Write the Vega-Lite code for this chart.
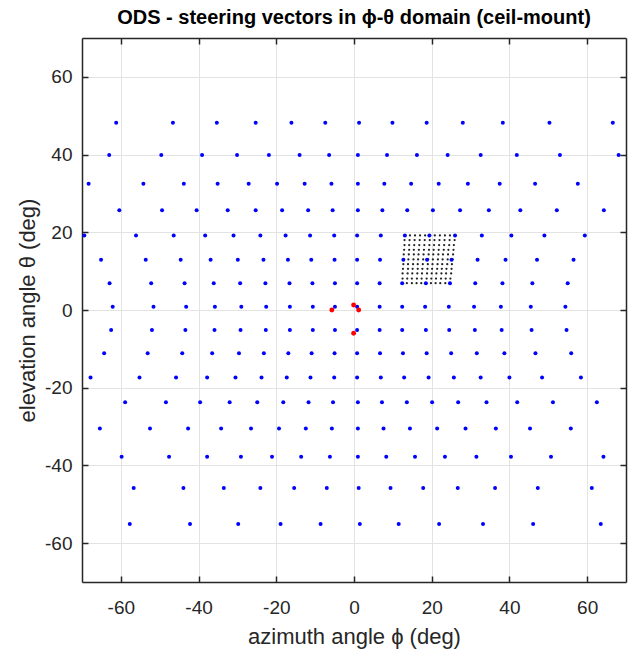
{
"$schema": "https://vega.github.io/schema/vega-lite/v6.json",
"width": 544, "height": 544,
"autosize": {"type": "none"},
"padding": {"left": 82, "top": 38, "right": 4, "bottom": 72},
"background": "white",
"title": {"text": "ODS - steering vectors in ϕ-θ domain (ceil-mount)", "font": "Liberation Sans", "fontSize": 20, "fontWeight": "bold", "color": "#000000", "anchor": "middle", "offset": 9},
"config": {"view": {"stroke": null}, "axis": {"labelFont": "Liberation Sans", "titleFont": "Liberation Sans", "labelFontSize": 19, "titleFontSize": 22, "titleFontWeight": "normal", "labelColor": "#262626", "titleColor": "#262626", "domainColor": "#262626", "domainWidth": 1.5, "tickColor": "#262626", "tickWidth": 1.5, "tickSize": -6, "gridColor": "#e3e3e3", "gridWidth": 1, "labelFlush": false, "labelOverlap": false}},
"datasets": {
"steer": [
{"az":-61.2,"el":48.2},{"az":-46.6,"el":48.2},{"az":-35.3,"el":48.2},{"az":-25.3,"el":48.2},{"az":-16.1,"el":48.2},{"az":-7.4,"el":48.2},{"az":1.3,"el":48.2},{"az":9.9,"el":48.2},{"az":18.7,"el":48.2},{"az":28.0,"el":48.2},{"az":38.3,"el":48.2},{"az":50.3,"el":48.2},{"az":66.6,"el":48.2},
{"az":-63.0,"el":39.9},{"az":-49.6,"el":39.9},{"az":-39.1,"el":39.9},{"az":-30.1,"el":39.9},{"az":-21.9,"el":39.9},{"az":-14.0,"el":39.9},{"az":-6.4,"el":39.9},{"az":1.0,"el":39.9},{"az":8.5,"el":39.9},{"az":16.2,"el":39.9},{"az":24.1,"el":39.9},{"az":32.6,"el":39.9},{"az":41.9,"el":39.9},{"az":53.0,"el":39.9},{"az":68.1,"el":39.9},
{"az":-68.3,"el":32.5},{"az":-54.2,"el":32.5},{"az":-43.8,"el":32.5},{"az":-35.1,"el":32.5},{"az":-27.1,"el":32.5},{"az":-19.8,"el":32.5},{"az":-12.7,"el":32.5},{"az":-5.8,"el":32.5},{"az":1.0,"el":32.5},{"az":7.8,"el":32.5},{"az":14.7,"el":32.5},{"az":21.8,"el":32.5},{"az":29.3,"el":32.5},{"az":37.5,"el":32.5},{"az":46.6,"el":32.5},{"az":57.6,"el":32.5},
{"az":-60.4,"el":25.7},{"az":-49.4,"el":25.7},{"az":-40.5,"el":25.7},{"az":-32.5,"el":25.7},{"az":-25.3,"el":25.7},{"az":-18.5,"el":25.7},{"az":-11.8,"el":25.7},{"az":-5.5,"el":25.7},{"az":1.0,"el":25.7},{"az":7.3,"el":25.7},{"az":13.7,"el":25.7},{"az":20.3,"el":25.7},{"az":27.3,"el":25.7},{"az":34.7,"el":25.7},{"az":42.8,"el":25.7},{"az":52.2,"el":25.7},{"az":64.3,"el":25.7},
{"az":-69.4,"el":19.2},{"az":-56.1,"el":19.2},{"az":-46.4,"el":19.2},{"az":-38.3,"el":19.2},{"az":-31.0,"el":19.2},{"az":-24.1,"el":19.2},{"az":-17.6,"el":19.2},{"az":-11.3,"el":19.2},{"az":-5.1,"el":19.2},{"az":0.8,"el":19.2},{"az":6.9,"el":19.2},{"az":13.1,"el":19.2},{"az":19.4,"el":19.2},{"az":26.0,"el":19.2},{"az":32.9,"el":19.2},{"az":40.5,"el":19.2},{"az":49.0,"el":19.2},{"az":59.4,"el":19.2},
{"az":-65.1,"el":12.9},{"az":-53.6,"el":12.9},{"az":-44.6,"el":12.9},{"az":-36.9,"el":12.9},{"az":-29.9,"el":12.9},{"az":-23.3,"el":12.9},{"az":-17.0,"el":12.9},{"az":-11.0,"el":12.9},{"az":-5.0,"el":12.9},{"az":0.8,"el":12.9},{"az":6.7,"el":12.9},{"az":12.7,"el":12.9},{"az":18.8,"el":12.9},{"az":25.1,"el":12.9},{"az":31.8,"el":12.9},{"az":39.0,"el":12.9},{"az":47.1,"el":12.9},{"az":56.5,"el":12.9},
{"az":-62.9,"el":6.9},{"az":-52.2,"el":6.9},{"az":-43.6,"el":6.9},{"az":-36.1,"el":6.9},{"az":-29.3,"el":6.9},{"az":-22.8,"el":6.9},{"az":-16.6,"el":6.9},{"az":-10.7,"el":6.9},{"az":-4.9,"el":6.9},{"az":0.8,"el":6.9},{"az":6.6,"el":6.9},{"az":12.4,"el":6.9},{"az":18.5,"el":6.9},{"az":24.7,"el":6.9},{"az":31.2,"el":6.9},{"az":38.2,"el":6.9},{"az":45.9,"el":6.9},{"az":55.0,"el":6.9},
{"az":-62.1,"el":0.85},{"az":-51.6,"el":0.85},{"az":-43.2,"el":0.85},{"az":-35.8,"el":0.85},{"az":-29.0,"el":0.85},{"az":-22.6,"el":0.85},{"az":-16.5,"el":0.85},{"az":-10.6,"el":0.85},{"az":-4.9,"el":0.85},{"az":0.8,"el":0.85},{"az":6.6,"el":0.85},{"az":12.4,"el":0.85},{"az":18.3,"el":0.85},{"az":24.4,"el":0.85},{"az":30.9,"el":0.85},{"az":37.8,"el":0.85},{"az":45.5,"el":0.85},{"az":54.4,"el":0.85},
{"az":-62.5,"el":-5.15},{"az":-52.0,"el":-5.15},{"az":-43.4,"el":-5.15},{"az":-35.9,"el":-5.15},{"az":-29.2,"el":-5.15},{"az":-22.7,"el":-5.15},{"az":-16.5,"el":-5.15},{"az":-10.6,"el":-5.15},{"az":-4.9,"el":-5.15},{"az":0.8,"el":-5.15},{"az":6.6,"el":-5.15},{"az":12.4,"el":-5.15},{"az":18.5,"el":-5.15},{"az":24.5,"el":-5.15},{"az":31.1,"el":-5.15},{"az":38.0,"el":-5.15},{"az":45.7,"el":-5.15},{"az":54.7,"el":-5.15},
{"az":-64.3,"el":-11.1},{"az":-53.1,"el":-11.1},{"az":-44.2,"el":-11.1},{"az":-36.5,"el":-11.1},{"az":-29.6,"el":-11.1},{"az":-23.2,"el":-11.1},{"az":-16.9,"el":-11.1},{"az":-10.9,"el":-11.1},{"az":-5.0,"el":-11.1},{"az":0.8,"el":-11.1},{"az":6.7,"el":-11.1},{"az":12.6,"el":-11.1},{"az":18.7,"el":-11.1},{"az":25.0,"el":-11.1},{"az":31.6,"el":-11.1},{"az":38.7,"el":-11.1},{"az":46.7,"el":-11.1},{"az":55.9,"el":-11.1},
{"az":-67.8,"el":-17.4},{"az":-55.2,"el":-17.4},{"az":-45.8,"el":-17.4},{"az":-37.8,"el":-17.4},{"az":-30.5,"el":-17.4},{"az":-23.8,"el":-17.4},{"az":-17.3,"el":-17.4},{"az":-11.2,"el":-17.4},{"az":-5.1,"el":-17.4},{"az":0.8,"el":-17.4},{"az":6.9,"el":-17.4},{"az":12.9,"el":-17.4},{"az":19.2,"el":-17.4},{"az":25.7,"el":-17.4},{"az":32.6,"el":-17.4},{"az":40.0,"el":-17.4},{"az":48.4,"el":-17.4},{"az":58.4,"el":-17.4},
{"az":-58.9,"el":-23.75},{"az":-48.4,"el":-23.75},{"az":-39.6,"el":-23.75},{"az":-32.0,"el":-23.75},{"az":-24.9,"el":-23.75},{"az":-18.2,"el":-23.75},{"az":-11.7,"el":-23.75},{"az":-5.4,"el":-23.75},{"az":1.0,"el":-23.75},{"az":7.2,"el":-23.75},{"az":13.6,"el":-23.75},{"az":20.1,"el":-23.75},{"az":26.8,"el":-23.75},{"az":34.1,"el":-23.75},{"az":42.0,"el":-23.75},{"az":51.2,"el":-23.75},{"az":62.5,"el":-23.75},
{"az":-65.4,"el":-30.5},{"az":-52.5,"el":-30.5},{"az":-42.7,"el":-30.5},{"az":-34.2,"el":-30.5},{"az":-26.5,"el":-30.5},{"az":-19.3,"el":-30.5},{"az":-12.4,"el":-30.5},{"az":-5.7,"el":-30.5},{"az":1.0,"el":-30.5},{"az":7.6,"el":-30.5},{"az":14.4,"el":-30.5},{"az":21.4,"el":-30.5},{"az":28.7,"el":-30.5},{"az":36.5,"el":-30.5},{"az":45.3,"el":-30.5},{"az":55.8,"el":-30.5},
{"az":-59.8,"el":-37.75},{"az":-47.6,"el":-37.75},{"az":-37.8,"el":-37.75},{"az":-29.1,"el":-37.75},{"az":-21.1,"el":-37.75},{"az":-13.6,"el":-37.75},{"az":-6.2,"el":-37.75},{"az":1.0,"el":-37.75},{"az":8.3,"el":-37.75},{"az":15.7,"el":-37.75},{"az":23.4,"el":-37.75},{"az":31.5,"el":-37.75},{"az":40.4,"el":-37.75},{"az":50.7,"el":-37.75},{"az":64.2,"el":-37.75},
{"az":-56.7,"el":-45.8},{"az":-43.9,"el":-45.8},{"az":-33.5,"el":-45.8},{"az":-24.1,"el":-45.8},{"az":-15.4,"el":-45.8},{"az":-7.0,"el":-45.8},{"az":1.2,"el":-45.8},{"az":9.4,"el":-45.8},{"az":17.8,"el":-45.8},{"az":26.7,"el":-45.8},{"az":36.3,"el":-45.8},{"az":47.3,"el":-45.8},{"az":61.2,"el":-45.8},
{"az":-57.7,"el":-55.1},{"az":-42.2,"el":-55.1},{"az":-29.8,"el":-55.1},{"az":-18.9,"el":-55.1},{"az":-8.6,"el":-55.1},{"az":1.5,"el":-55.1},{"az":11.5,"el":-55.1},{"az":21.9,"el":-55.1},{"az":33.2,"el":-55.1},{"az":46.1,"el":-55.1},{"az":63.5,"el":-55.1}
],
"fine": [
{"az":13.1,"el":19.2},{"az":14.4,"el":19.2},{"az":15.7,"el":19.2},{"az":17.0,"el":19.2},{"az":18.3,"el":19.2},{"az":19.6,"el":19.2},{"az":20.8,"el":19.2},{"az":22.1,"el":19.2},{"az":23.4,"el":19.2},{"az":24.7,"el":19.2},{"az":26.0,"el":19.2},
{"az":13.0,"el":18.0},{"az":14.3,"el":18.0},{"az":15.6,"el":18.0},{"az":16.9,"el":18.0},{"az":18.2,"el":18.0},{"az":19.5,"el":18.0},{"az":20.7,"el":18.0},{"az":22.0,"el":18.0},{"az":23.3,"el":18.0},{"az":24.6,"el":18.0},{"az":25.9,"el":18.0},
{"az":13.0,"el":16.7},{"az":14.2,"el":16.7},{"az":15.5,"el":16.7},{"az":16.8,"el":16.7},{"az":18.1,"el":16.7},{"az":19.4,"el":16.7},{"az":20.6,"el":16.7},{"az":21.9,"el":16.7},{"az":23.2,"el":16.7},{"az":24.5,"el":16.7},{"az":25.7,"el":16.7},
{"az":12.9,"el":15.5},{"az":14.2,"el":15.5},{"az":15.4,"el":15.5},{"az":16.7,"el":15.5},{"az":18.0,"el":15.5},{"az":19.3,"el":15.5},{"az":20.5,"el":15.5},{"az":21.8,"el":15.5},{"az":23.1,"el":15.5},{"az":24.3,"el":15.5},{"az":25.6,"el":15.5},
{"az":12.8,"el":14.3},{"az":14.1,"el":14.3},{"az":15.4,"el":14.3},{"az":16.6,"el":14.3},{"az":17.9,"el":14.3},{"az":19.2,"el":14.3},{"az":20.4,"el":14.3},{"az":21.7,"el":14.3},{"az":22.9,"el":14.3},{"az":24.2,"el":14.3},{"az":25.5,"el":14.3},
{"az":12.8,"el":13.0},{"az":14.0,"el":13.0},{"az":15.3,"el":13.0},{"az":16.5,"el":13.0},{"az":17.8,"el":13.0},{"az":19.1,"el":13.0},{"az":20.3,"el":13.0},{"az":21.6,"el":13.0},{"az":22.8,"el":13.0},{"az":24.1,"el":13.0},{"az":25.4,"el":13.0},
{"az":12.7,"el":11.8},{"az":13.9,"el":11.8},{"az":15.2,"el":11.8},{"az":16.4,"el":11.8},{"az":17.7,"el":11.8},{"az":19.0,"el":11.8},{"az":20.2,"el":11.8},{"az":21.5,"el":11.8},{"az":22.7,"el":11.8},{"az":24.0,"el":11.8},{"az":25.2,"el":11.8},
{"az":12.6,"el":10.6},{"az":13.9,"el":10.6},{"az":15.1,"el":10.6},{"az":16.4,"el":10.6},{"az":17.6,"el":10.6},{"az":18.9,"el":10.6},{"az":20.1,"el":10.6},{"az":21.4,"el":10.6},{"az":22.6,"el":10.6},{"az":23.8,"el":10.6},{"az":25.1,"el":10.6},
{"az":12.5,"el":9.4},{"az":13.8,"el":9.4},{"az":15.0,"el":9.4},{"az":16.3,"el":9.4},{"az":17.5,"el":9.4},{"az":18.8,"el":9.4},{"az":20.0,"el":9.4},{"az":21.2,"el":9.4},{"az":22.5,"el":9.4},{"az":23.7,"el":9.4},{"az":25.0,"el":9.4},
{"az":12.5,"el":8.1},{"az":13.7,"el":8.1},{"az":14.9,"el":8.1},{"az":16.2,"el":8.1},{"az":17.4,"el":8.1},{"az":18.7,"el":8.1},{"az":19.9,"el":8.1},{"az":21.1,"el":8.1},{"az":22.4,"el":8.1},{"az":23.6,"el":8.1},{"az":24.8,"el":8.1},
{"az":12.4,"el":6.9},{"az":13.6,"el":6.9},{"az":14.9,"el":6.9},{"az":16.1,"el":6.9},{"az":17.3,"el":6.9},{"az":18.6,"el":6.9},{"az":19.8,"el":6.9},{"az":21.0,"el":6.9},{"az":22.2,"el":6.9},{"az":23.5,"el":6.9},{"az":24.7,"el":6.9}
],
"src": [
{"az":-5.7,"el":0.0},{"az":-0.1,"el":1.3},{"az":1.2,"el":0.0},{"az":-0.1,"el":-6.0}
]
},
"layer": [
{"data": {"name": "fine"},
 "mark": {"type": "circle", "size": 5, "color": "#222222", "opacity": 1},
 "encoding": {
  "x": {"field": "az", "type": "quantitative", "scale": {"domain": [-70, 70], "nice": false, "zero": false},
        "axis": {"orient": "bottom", "values": [-60, -40, -20, 0, 20, 40, 60], "labelExpr": "'' + datum.value", "grid": true, "labelPadding": 22, "title": "azimuth angle ϕ (deg)", "titlePadding": 9}},
  "y": {"field": "el", "type": "quantitative", "scale": {"domain": [-70, 70], "nice": false, "zero": false},
        "axis": {"orient": "left", "values": [-60, -40, -20, 0, 20, 40, 60], "labelExpr": "'' + datum.value", "grid": true, "labelPadding": 16, "title": "elevation angle θ (deg)", "titlePadding": 5}}
 }},
{"data": {"name": "steer"},
 "mark": {"type": "circle", "size": 16, "color": "#0000ff", "opacity": 1},
 "encoding": {
  "x": {"field": "az", "type": "quantitative", "axis": {"orient": "top", "values": [-60, -40, -20, 0, 20, 40, 60], "grid": false, "labels": false, "title": null}},
  "y": {"field": "el", "type": "quantitative", "axis": {"orient": "right", "values": [-60, -40, -20, 0, 20, 40, 60], "grid": false, "labels": false, "title": null}}
 }},
{"data": {"name": "src"},
 "mark": {"type": "circle", "size": 24, "color": "#ff0000", "opacity": 1},
 "encoding": {
  "x": {"field": "az", "type": "quantitative", "axis": null},
  "y": {"field": "el", "type": "quantitative", "axis": null}
 }}
],
"resolve": {"axis": {"x": "independent", "y": "independent"}}
}
